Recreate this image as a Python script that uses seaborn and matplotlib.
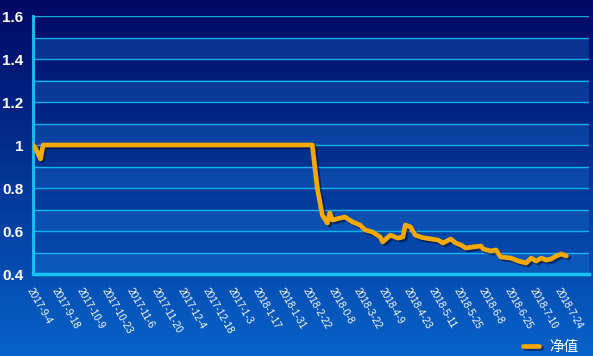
import matplotlib
matplotlib.use('Agg')
import matplotlib.pyplot as plt
import matplotlib.patheffects as pe
import numpy as np
import pandas as pd
import seaborn as sns

# trading-day index and net value
day = [0, 1, 2, 3, 4, 111, 113, 115, 117, 118, 119, 122, 124, 127, 130, 132, 135,
       138, 139, 142, 145, 147, 148, 150, 152, 154, 156, 161, 163, 166, 168, 170,
       172, 175, 178, 179, 182, 184, 186, 190, 193, 196, 198, 200, 202, 204, 206,
       208, 210, 212]
nav = [1.0, 0.985, 0.96, 0.935, 1.0, 1.0, 0.80, 0.674, 0.637, 0.684, 0.651, 0.660,
       0.665, 0.642, 0.628, 0.605, 0.595, 0.572, 0.549, 0.581, 0.567, 0.572, 0.628,
       0.619, 0.581, 0.572, 0.567, 0.558, 0.544, 0.563, 0.544, 0.535, 0.521, 0.526,
       0.530, 0.516, 0.507, 0.512, 0.479, 0.474, 0.460, 0.451, 0.474, 0.460, 0.474,
       0.465, 0.470, 0.484, 0.493, 0.484]
tick_labels = ['2017-9-4', '2017-9-18', '2017-10-9', '2017-10-23', '2017-11-6',
               '2017-11-20', '2017-12-4', '2017-12-18', '2017-1-3', '2018-1-17',
               '2018-1-31', '2018-2-22', '2018-0-8', '2018-3-22', '2018-4-9',
               '2018-4-23', '2018-5-11', '2018-5-25', '2018-6-8', '2018-6-25',
               '2018-7-10', '2018-7-24']
y_ticks = [0.4, 0.6, 0.8, 1.0, 1.2, 1.4, 1.6]
y_tick_labels = ['0.4', '0.6', '0.8', '1', '1.2', '1.4', '1.6']
series_name = '净值'

sns.set_style('white')
plt.rcParams['font.family'] = ['Liberation Sans', 'Noto Sans CJK SC', 'DejaVu Sans']

cyan = '#12c6f5'
orange = '#f5a800'
shadow = [pe.SimpleLineShadow(offset=(1.5, -1.5), shadow_color='#001040', alpha=0.6),
          pe.Normal()]

fig = plt.figure(figsize=(5.93, 3.56), dpi=100)

# background gradient
bg = fig.add_axes([0, 0, 1, 1], zorder=0)
top = np.array([0, 8, 100]) / 255
bottom = np.array([6, 98, 200]) / 255
t = np.linspace(0, 1, 256)[:, None]
grad = top * (1 - t) + bottom * t
bg.imshow(grad[:, None, :], aspect='auto', extent=[0, 1, 0, 1])
bg.axis('off')

ax = fig.add_axes([33 / 593, 82 / 356, 556 / 593, 258 / 356], zorder=1)
ax.patch.set_alpha(0)

df = pd.DataFrame({'day': day, 'nav': nav})
sns.lineplot(data=df, x='day', y='nav', ax=ax, color=orange, linewidth=3.4,
             label=series_name, zorder=5, path_effects=shadow)

ax.set_xlim(0, 221)
ax.set_ylim(0.4, 1.6)

# alternating bands and grid lines
for k in range(0, 12, 2):
    lo = 0.4 + k * 0.1
    ax.axhspan(lo, lo + 0.1, color='#1a74d4', alpha=0.32, lw=0, zorder=1)
for k in range(1, 13):
    ax.axhline(0.4 + k * 0.1, color=cyan, lw=1, alpha=0.85, zorder=2)

ax.set_yticks(y_ticks)
ax.set_yticklabels(y_tick_labels, color='white', fontsize=11, fontweight='bold')
ax.set_xticks(range(0, 221, 10))
ax.set_xticklabels(tick_labels + [''], color='white', fontsize=7.2,
                   rotation=-60, ha='left', va='top', rotation_mode='anchor')
ax.tick_params(axis='y', colors=cyan, length=5, width=2, pad=2, labelcolor='white')
ax.tick_params(axis='x', colors=cyan, length=5, width=2, pad=4, labelcolor='white')

for side in ['top', 'right']:
    ax.spines[side].set_visible(False)
ax.spines['left'].set_color(cyan)
ax.spines['left'].set_linewidth(2)
ax.spines['bottom'].set_color(cyan)
ax.spines['bottom'].set_linewidth(2.5)
ax.spines['bottom'].set_zorder(6)
ax.set_xlabel('')
ax.set_ylabel('')

leg = ax.legend(loc='lower right', bbox_to_anchor=(1.005, -0.36), frameon=False,
                handlelength=1.1, handletextpad=0.7, fontsize=10.5, labelcolor='white')
for h in leg.get_lines():
    h.set_path_effects(shadow)

fig.savefig('out.png', dpi=100)
